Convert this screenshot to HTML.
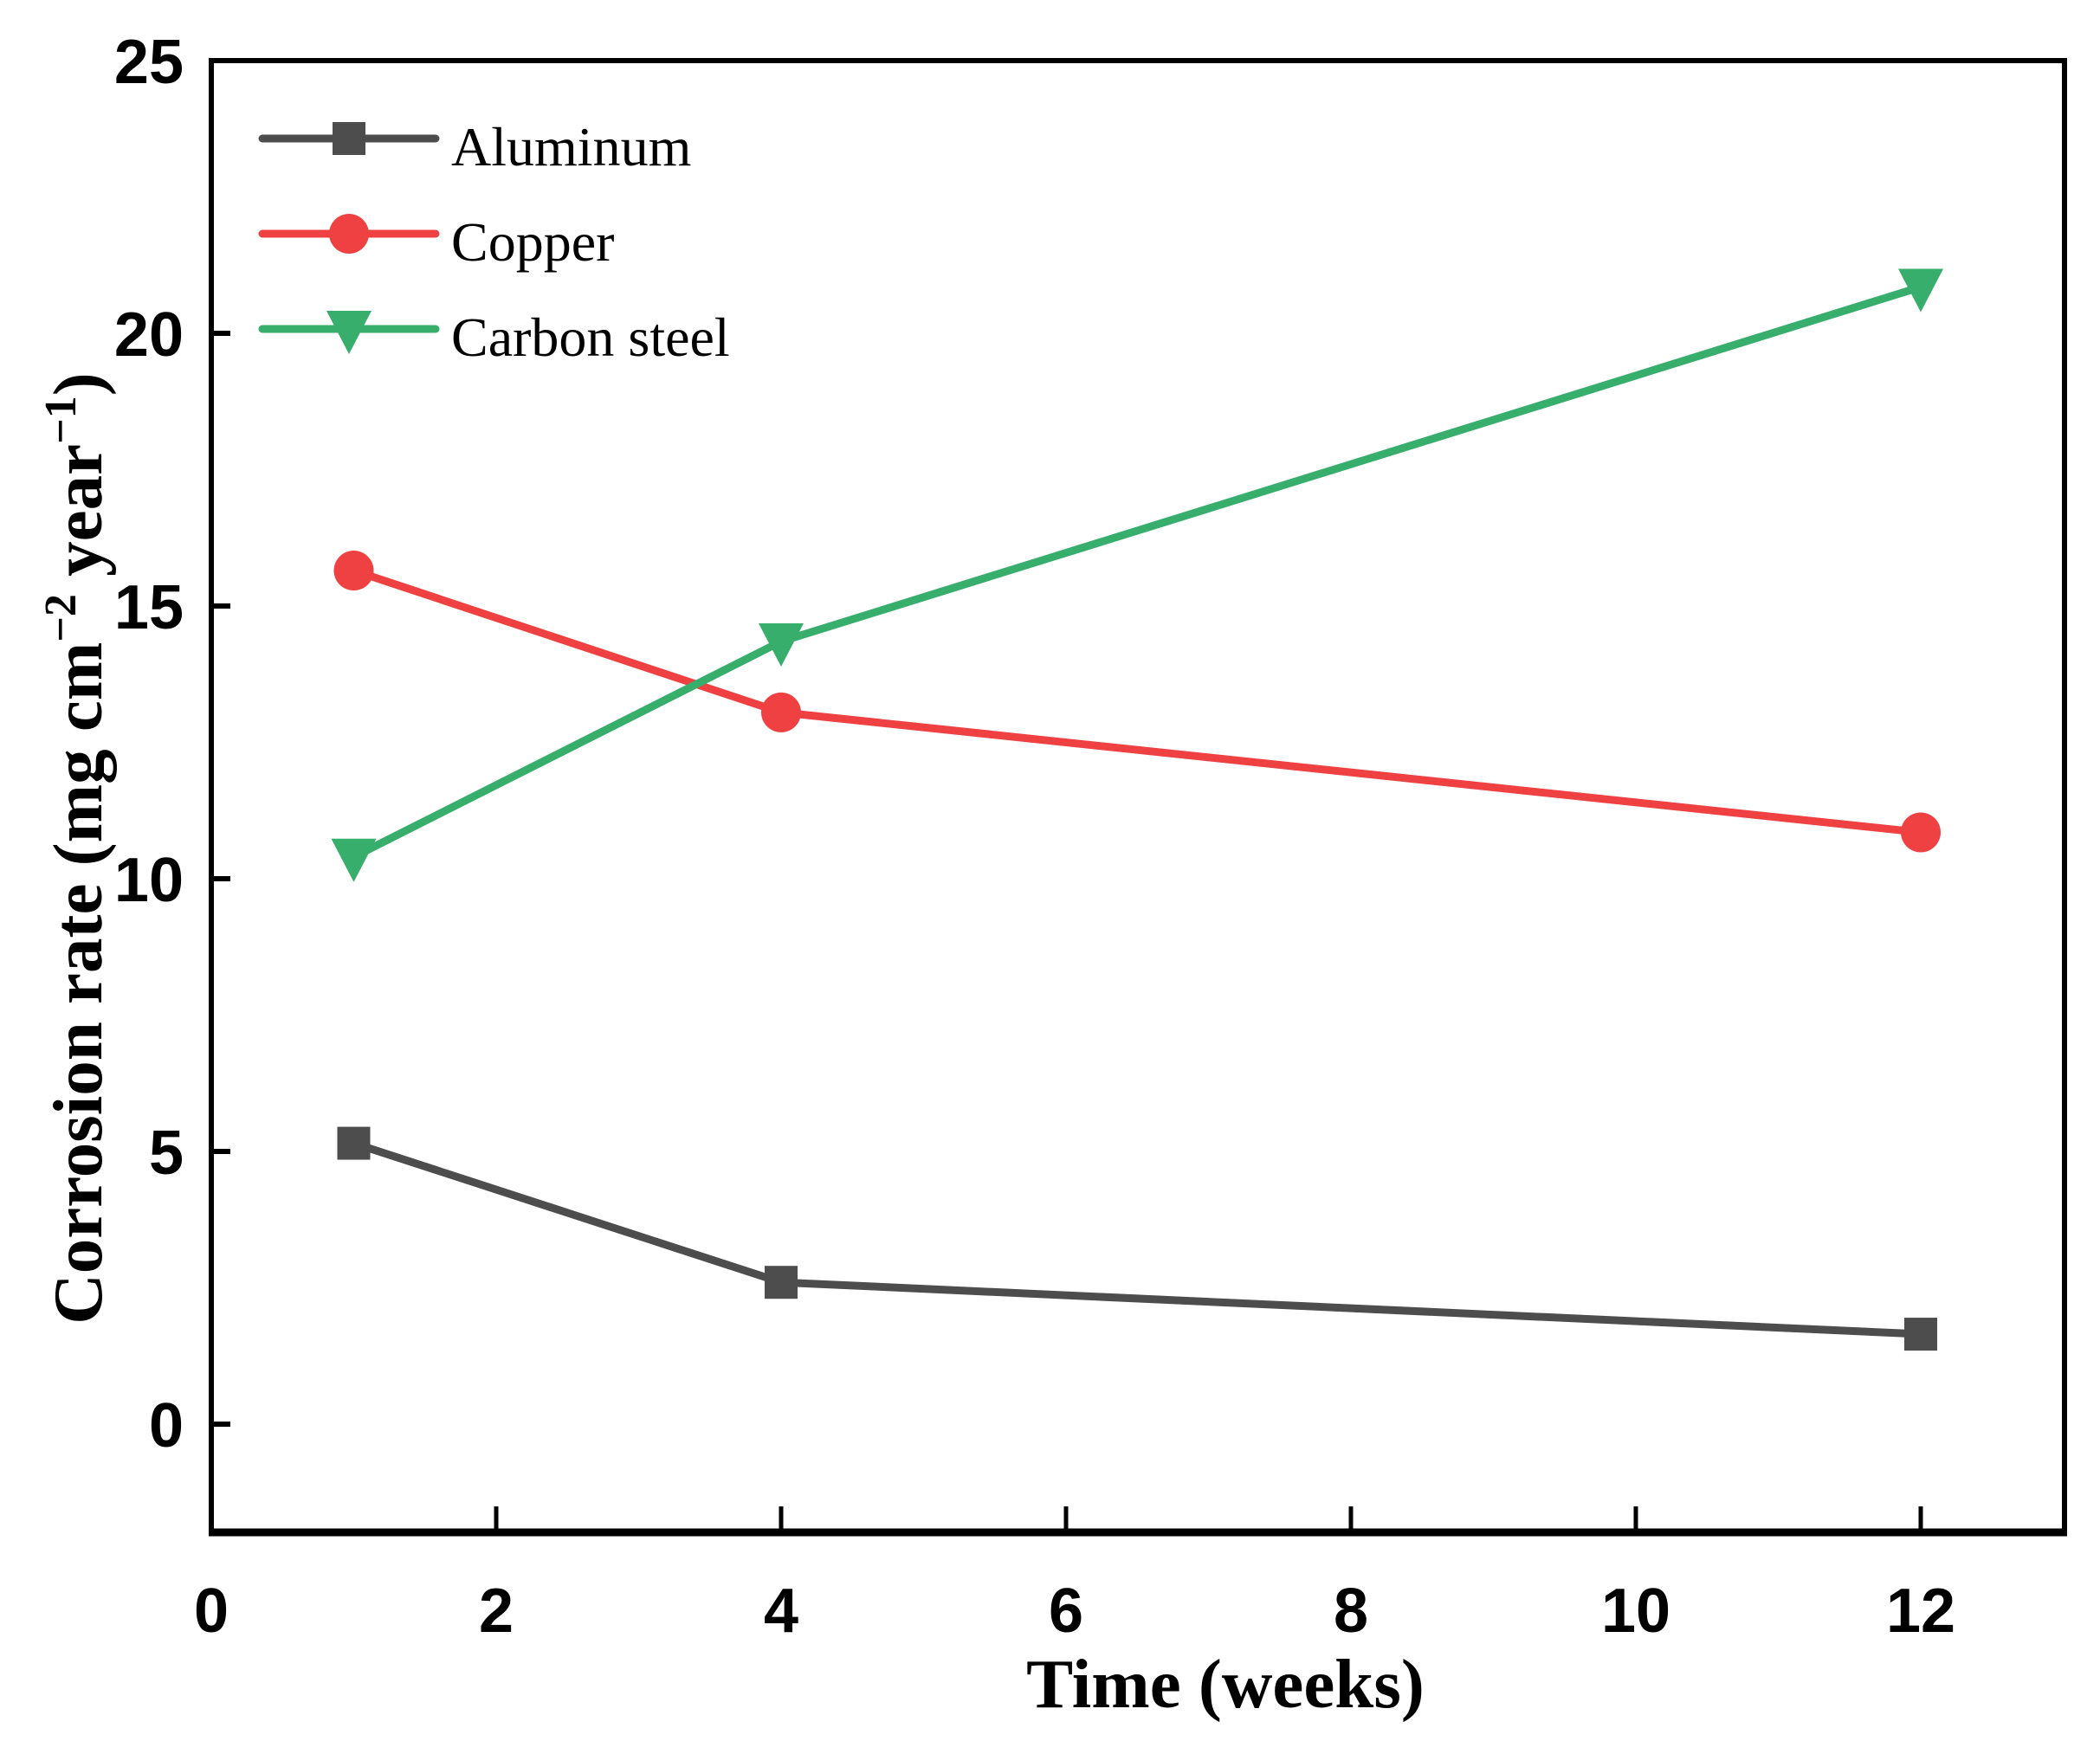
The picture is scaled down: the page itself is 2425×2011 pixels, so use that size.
<!DOCTYPE html>
<html><head><meta charset="utf-8"><style>
html,body{margin:0;padding:0;background:#fff;}
svg{display:block;}
.tick{font-family:"Liberation Sans",Arial,sans-serif;font-weight:bold;font-size:72px;fill:#000;}
.ttl{font-family:"Liberation Serif","Times New Roman",serif;font-weight:bold;font-size:81px;fill:#000;}
.leg{font-family:"Liberation Serif","Times New Roman",serif;font-size:64px;fill:#000;}
</style></head><body>
<svg id="chart" width="2425" height="2011" viewBox="0 0 2425 2011" xmlns="http://www.w3.org/2000/svg">
<g id="grid"></g>
<g id="series"></g>
<g id="axes"></g>
<g id="legend"></g>
</svg>
<script>
const weeks = [1, 4, 12];
const aluminum = [5.15, 2.6, 1.65];
const copper = [15.65, 13.05, 10.85];
const carbonSteel = [10.4, 14.35, 20.85];
const xTicks = [0, 2, 4, 6, 8, 10, 12];
const yTicks = [0, 5, 10, 15, 20, 25];

const NS = "http://www.w3.org/2000/svg";
const L = 244, R = 2384, T = 70, B = 1770;
const yTop = 70, yZero = 1645;
const yScale = (yZero - yTop) / 25;
function X(v){ return L + v * (2218 - L) / 12; }
function Y(v){ return yZero - v * yScale; }

function el(tag, attrs, parent){
  const e = document.createElementNS(NS, tag);
  for (const k in attrs) e.setAttribute(k, attrs[k]);
  parent.appendChild(e);
  return e;
}
const series = document.getElementById('series');
const axes = document.getElementById('axes');
const legend = document.getElementById('legend');

function marker(type, x, y, color, parent){
  let m;
  if (type === 'square') {
    m = el('rect', {x: x-19, y: y-19, width: 38, height: 38, fill: color}, parent);
  } else if (type === 'circle') {
    m = el('circle', {cx: x, cy: y, r: 23, fill: color}, parent);
  } else {
    m = el('polygon', {points: `${x-26},${y-21} ${x+26},${y-21} ${x},${y+29}`, fill: color}, parent);
  }
  return m;
}

const defs = [
  {name: 'aluminum', label: 'Aluminum', vals: aluminum, color: '#4d4d4d', m: 'square'},
  {name: 'copper', label: 'Copper', vals: copper, color: '#ef4142', m: 'circle'},
  {name: 'carbon-steel', label: 'Carbon steel', vals: carbonSteel, color: '#37ae6b', m: 'tri'}
];

defs.forEach((d, i) => {
  const g = el('g', {}, series);
  
  
  const pts = weeks.map((w, j) => X(w) + ',' + Y(d.vals[j])).join(' ');
  const line = el('polyline', {points: pts, fill: 'none', stroke: d.color, 'stroke-width': 9, 'stroke-linejoin': 'round'}, g);
  
  
  weeks.forEach((w, j) => {
    const mk = marker(d.m, X(w), Y(d.vals[j]), d.color, g);
    
    
  });
  const ly = 160 + i * 110;
  const lg = el('g', {}, legend);
  
  
  el('line', {x1: 303, x2: 503, y1: ly, y2: ly, stroke: d.color, 'stroke-width': 9, 'stroke-linecap': 'round'}, lg);
  marker(d.m, 403, ly, d.color, lg);
  const t = el('text', {x: 521, y: ly + 31, class: 'leg'}, lg);
  t.textContent = d.label;
});

const frame = el('rect', {x: L, y: T, width: R - L, height: B - T, fill: 'none', stroke: '#000', 'stroke-width': 6}, axes);


el('line', {x1: L-3, x2: R+3, y1: B, y2: B, stroke: '#000', 'stroke-width': 9}, axes);

xTicks.forEach(v => {
  const x = X(v);
  if (v > 0) el('line', {x1: x, x2: x, y1: B, y2: B - 30, stroke: '#000', 'stroke-width': 5}, axes);
  const t = el('text', {x: x, y: 1885, 'text-anchor': 'middle', class: 'tick'}, axes);
  
  
  t.textContent = v;
});
yTicks.forEach(v => {
  const y = Y(v);
  el('line', {x1: L, x2: L + 22, y1: y, y2: y, stroke: '#000', 'stroke-width': 6}, axes);
  const t = el('text', {x: 212, y: y + 26, 'text-anchor': 'end', class: 'tick'}, axes);
  
  
  t.textContent = v;
});
</script>
<svg style="position:absolute;left:0;top:0" width="2425" height="2011" xmlns="http://www.w3.org/2000/svg">
<text class="ttl" x="1415" y="1972" text-anchor="middle">Time (weeks)</text>
<text class="ttl" x="0" y="0" text-anchor="middle" transform="translate(117,980) rotate(-90)">Corrosion rate (mg cm<tspan dy="-30" font-size="52">−2</tspan><tspan dy="30"> year</tspan><tspan dy="-30" font-size="52">−1</tspan><tspan dy="30">)</tspan></text>
</svg>
</body></html>
